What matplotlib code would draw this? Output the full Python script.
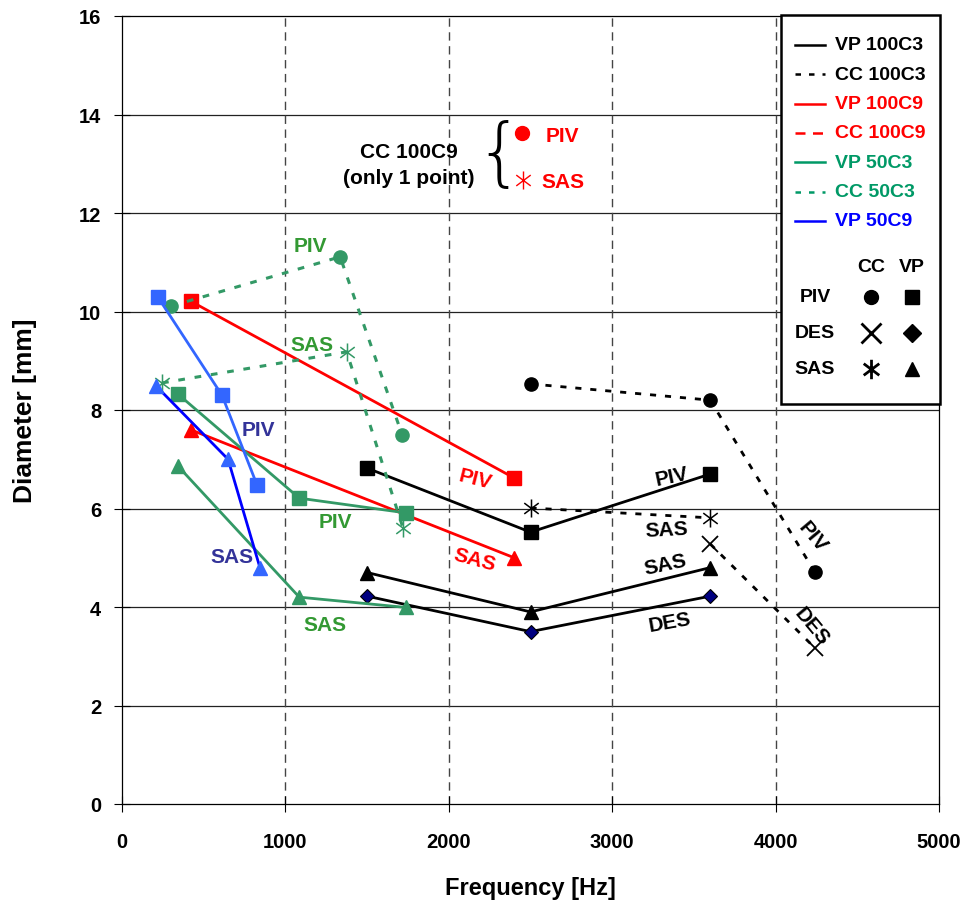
import matplotlib
matplotlib.use("Agg")
import matplotlib.pyplot as plt
from matplotlib.path import Path

plt.rcParams['font.family'] = ['Liberation Sans', 'DejaVu Sans']
plt.rcParams['font.weight'] = 'bold'

# ---- data: frequency [Hz], diameter [mm] ----
vp100c3_f = [1500, 2500, 3600]
vp100c3_piv = [6.82, 5.52, 6.70]
vp100c3_sas = [4.70, 3.90, 4.80]
vp100c3_des = [4.22, 3.50, 4.22]

cc100c3_piv_f = [2500, 3600, 4240]
cc100c3_piv = [8.53, 8.20, 4.71]
cc100c3_sas_f = [2500, 3600]
cc100c3_sas = [6.01, 5.81]
cc100c3_des_f = [3600, 4240]
cc100c3_des = [5.28, 3.17]

vp100c9_f = [420, 2400]
vp100c9_piv = [10.21, 6.62]
vp100c9_sas = [7.60, 5.00]

vp50c3_f = [340, 1085, 1740]
vp50c3_piv = [8.33, 6.21, 5.91]
vp50c3_sas = [6.87, 4.20, 3.99]

cc50c3_piv_f = [300, 1335, 1715]
cc50c3_piv = [10.11, 11.11, 7.49]
cc50c3_sas_f = [245, 1375, 1720]
cc50c3_sas = [8.55, 9.18, 5.60]

vp50c9_piv_f = [220, 612, 826]
vp50c9_piv = [10.29, 8.30, 6.48]
vp50c9_sas_f = [208, 649, 845]
vp50c9_sas = [8.49, 7.00, 4.79]

x_ticks = [0, 1000, 2000, 3000, 4000, 5000]
y_ticks = [0, 2, 4, 6, 8, 10, 12, 14, 16]

# ---- colours ----
BLACK = '#000000'
RED = '#FF0000'
GREEN = '#339966'
GREEN_TXT = '#339933'
LBLUE = '#3366FF'
BLUE = '#0000FF'
SLATE = '#333399'
NAVY = '#000080'

# asterisk marker: vertical stroke plus a cross
ast = Path([(0, -1), (0, 1), (-0.8, -0.6), (0.8, 0.6), (-0.8, 0.6), (0.8, -0.6)],
           [Path.MOVETO, Path.LINETO, Path.MOVETO, Path.LINETO, Path.MOVETO, Path.LINETO])

W, H = 966, 904
fig = plt.figure(figsize=(W / 100, H / 100), dpi=100)
ax = fig.add_axes([122 / W, (H - 805) / H, 817 / W, 788 / H])
ax.set_xlim(0, 5000)
ax.set_ylim(0, 16)
ax.set_xticks(x_ticks)
ax.set_yticks(y_ticks)
ax.tick_params(direction='inout', length=12, width=0.8, labelsize=14.5)
ax.tick_params(axis='y', pad=9)
ax.tick_params(axis='x', pad=14)
for lab in ax.get_xticklabels() + ax.get_yticklabels():
    lab.set_fontweight('bold')
for s in ax.spines.values():
    s.set_linewidth(0.9)

for yv in y_ticks[1:-1]:
    ax.axhline(yv, color='#222222', lw=0.9, zorder=0)
for xv in x_ticks[1:-1]:
    ax.axvline(xv, color='#444444', lw=1.0, ls=(0, (6, 4)), zorder=0)

ax.set_xlabel('Frequency [Hz]', fontsize=17, fontweight='bold', labelpad=18)
ax.set_ylabel('Diameter [mm]', fontsize=19, fontweight='bold', labelpad=30)

ms = 9.5
dot = (0, (2.2, 3.2))

# VP 100C3
ax.plot(vp100c3_f, vp100c3_piv, color=BLACK, lw=2, marker='s', ms=ms, zorder=4)
ax.plot(vp100c3_f, vp100c3_sas, color=BLACK, lw=2, marker='^', ms=ms + 1, zorder=4)
ax.plot(vp100c3_f, vp100c3_des, color=BLACK, lw=2, marker='D', ms=7.5,
        mfc=NAVY, mec=BLACK, mew=0.8, zorder=4)
# CC 100C3
ax.plot(cc100c3_piv_f, cc100c3_piv, color=BLACK, lw=2, ls=dot, marker='o', ms=ms, zorder=4)
ax.plot(cc100c3_sas_f, cc100c3_sas, color=BLACK, lw=2, ls=dot, marker=ast, ms=13,
        mew=1.1, zorder=4)
ax.plot(cc100c3_des_f, cc100c3_des, color=BLACK, lw=2, ls=dot, marker='x', ms=11,
        mew=1.3, zorder=4)
# VP 100C9
ax.plot(vp100c9_f, vp100c9_piv, color=RED, lw=2, marker='s', ms=ms, zorder=4)
ax.plot(vp100c9_f, vp100c9_sas, color=RED, lw=2, marker='^', ms=ms + 1, zorder=4)
# VP 50C3
ax.plot(vp50c3_f, vp50c3_piv, color=GREEN, lw=2, marker='s', ms=ms, zorder=4)
ax.plot(vp50c3_f, vp50c3_sas, color=GREEN, lw=2, marker='^', ms=ms + 1, zorder=4)
# CC 50C3
ax.plot(cc50c3_piv_f, cc50c3_piv, color=GREEN, lw=2.2, ls=dot, marker='o', ms=ms, zorder=4)
ax.plot(cc50c3_sas_f, cc50c3_sas, color=GREEN, lw=2.2, ls=dot, marker=ast, ms=13,
        mew=1.1, zorder=4)
# VP 50C9
ax.plot(vp50c9_piv_f, vp50c9_piv, color=LBLUE, lw=2, marker='s', ms=ms, zorder=4)
ax.plot(vp50c9_sas_f, vp50c9_sas, color=BLUE, lw=2, marker='^', ms=ms + 1,
        mfc=LBLUE, mec=LBLUE, zorder=4)

# series labels
def lab(x, y, s, c, rot=0):
    ax.text(x, y, s, color=c, fontsize=15, fontweight='bold', rotation=rot,
            ha='center', va='center', rotation_mode='anchor', zorder=5)

lab(1150, 11.33, 'PIV', GREEN_TXT)
lab(1163, 9.34, 'SAS', GREEN_TXT)
lab(1304, 5.73, 'PIV', GREEN_TXT)
lab(1242, 3.65, 'SAS', GREEN_TXT)
lab(832, 7.61, 'PIV', SLATE)
lab(673, 5.02, 'SAS', SLATE)
lab(2160, 6.60, 'PIV', RED, -14)
lab(2160, 4.97, 'SAS', RED, -15)
lab(3366, 6.66, 'PIV', BLACK, 12)
lab(3335, 5.58, 'SAS', BLACK, 3)
lab(3323, 4.87, 'SAS', BLACK, 12)
lab(3354, 3.70, 'DES', BLACK, 10)
lab(4229, 5.44, 'PIV', BLACK, -50)
lab(4223, 3.61, 'DES', BLACK, -50)

# overlay in pixel coordinates for the legend box and the CC 100C9 note
ov = fig.add_axes([0, 0, 1, 1], facecolor='none')
ov.set_xlim(0, W)
ov.set_ylim(H, 0)
ov.axis('off')

ov.text(409, 153, 'CC 100C9', fontsize=15, fontweight='bold', ha='center', va='center')
ov.text(409, 179, '(only 1 point)', fontsize=15, fontweight='bold', ha='center', va='center')
ov.text(499, 156, '{', fontsize=54, fontweight='light', family='DejaVu Sans',
        ha='center', va='center', color=BLACK)
ov.plot([522], [134], marker='o', color=RED, ms=10)
ov.text(562, 136, 'PIV', color=RED, fontsize=15, fontweight='bold', ha='center', va='center')
ov.plot([523], [181], marker=ast, color=RED, ms=13, mew=1.0, ls='none')
ov.text(563, 183, 'SAS', color=RED, fontsize=15, fontweight='bold', ha='center', va='center')

# legend box
ov.add_patch(plt.Rectangle((781, 16), 159, 389, fill=True, facecolor='white',
                           edgecolor=BLACK, lw=1.8, zorder=1))
leg = [('VP 100C3', BLACK, '-'), ('CC 100C3', BLACK, (0, (2.2, 3.2))),
       ('VP 100C9', RED, '-'), ('CC 100C9', RED, (0, (4, 3))),
       ('VP 50C3', '#009966', '-'), ('CC 50C3', '#009966', (0, (2.2, 3.2))),
       ('VP 50C9', BLUE, '-')]
for i, (name, c, ls) in enumerate(leg):
    yy = 46 + i * 29.3
    ov.plot([795, 825], [yy, yy], color=c, lw=1.8, ls=ls, zorder=2)
    ov.text(835, yy, name, color=c, fontsize=14, fontweight='bold', va='center', ha='left',
            zorder=2)
ov.text(871, 268, 'CC', fontsize=14, fontweight='bold', ha='center', va='center', zorder=2)
ov.text(912, 268, 'VP', fontsize=14, fontweight='bold', ha='center', va='center', zorder=2)
rows = [('PIV', 298, 'o', 's'), ('DES', 334, 'x', 'D'), ('SAS', 370, ast, '^')]
for name, yy, mcc, mvp in rows:
    ov.text(815, yy, name, fontsize=14, fontweight='bold', ha='center', va='center', zorder=2)
    if mcc == 'o':
        ov.plot([871], [yy], marker='o', color=BLACK, ms=10, ls='none', zorder=2)
    else:
        ov.plot([871], [yy], marker=mcc, color=BLACK, ms=14, mew=2.0, ls='none', zorder=2)
    ov.plot([912], [yy], marker=mvp, color=BLACK, ms=10 if mvp != 'D' else 9,
            ls='none', zorder=2)

fig.savefig('out.png', dpi=100)
